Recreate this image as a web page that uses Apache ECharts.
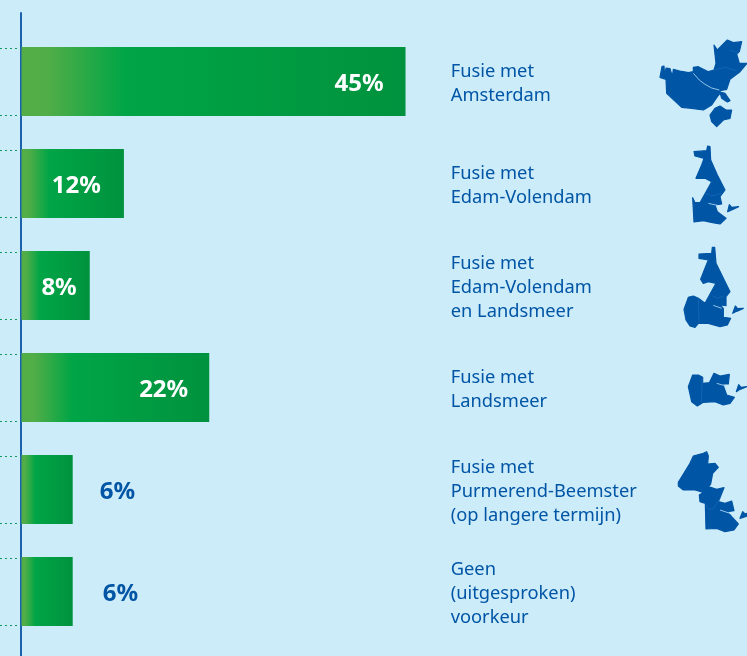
<!DOCTYPE html>
<html><head><meta charset="utf-8">
<style>html,body{margin:0;padding:0;background:#cdecfa}#c{width:747px;height:656px}</style>
<script src="https://cdn.jsdelivr.net/npm/echarts@6/dist/echarts.min.js"></script>
</head><body><div id="c"></div>
<script>
const categories = [
  'Fusie met\nAmsterdam',
  'Fusie met\nEdam-Volendam',
  'Fusie met\nEdam-Volendam\nen Landsmeer',
  'Fusie met\nLandsmeer',
  'Fusie met\nPurmerend-Beemster\n(op langere termijn)',
  'Geen\n(uitgesproken)\nvoorkeur'
];
const percentages = [45, 12, 8, 22, 6, 6];

// label placement, separate from the values
const labelInside = [true, true, true, true, false, false];
const labelGap = [22, 23, 13, 21, 27, 30];

// decorative map silhouettes, traced in zoomed-reference units
const mapAmsterdam = { ox: 640, oy: 30, shapes: [
  [[60,142],[66,110],[72,108],[74,140],[78,114],[90,116],[97,140],[100,118],[122,124],[128,148],[125,124],[145,128],[160,125],[178,148],[195,160],[215,172],[240,182],[240,190],[232,200],[215,225],[190,240],[155,235],[125,232],[80,190],[78,148]],
  [[160,112],[175,110],[205,125],[222,120],[228,100],[222,45],[232,60],[262,30],[280,38],[305,35],[298,65],[290,72],[298,100],[321,100],[300,125],[270,148],[260,178],[240,182],[215,172],[195,160],[178,148],[160,125]],
  [[240,186],[255,190],[270,212],[262,216],[245,205]],
  [[210,255],[225,235],[240,228],[250,235],[258,240],[275,240],[270,265],[250,270],[230,290],[215,275]]
], seams: [[[222,120],[255,112],[290,122]],[[268,60],[295,68]]],
   channels: [[[160,130],[178,150],[195,163],[215,174],[238,180]]] };
const mapEdam = { ox: 640, oy: 30, shapes: [
  [[162,365],[200,362],[203,348],[210,350],[212,390],[232,435],[255,480],[240,500],[245,522],[225,525],[232,545],[258,565],[240,582],[218,578],[190,572],[162,576],[158,503],[165,518],[180,518],[215,455],[195,445],[168,445],[185,405],[192,385],[165,378]],
  [[263,545],[268,524],[275,532],[296,530],[275,540]]
], seams: [[[195,490],[215,498],[245,490]]], channels: [[[205,520],[232,526]]] };
const mapEdamLandsmeer = { ox: 640, oy: 240, shapes: [
  [[177,42],[215,40],[217,22],[224,22],[228,70],[270,155],[258,170],[258,197],[240,195],[250,205],[250,232],[272,235],[262,255],[240,260],[205,250],[175,250],[165,262],[150,258],[138,240],[132,208],[145,172],[160,168],[175,175],[195,190],[228,130],[205,125],[190,130],[182,118],[195,85],[205,60],[177,55]],
  [[278,220],[286,198],[293,206],[310,205],[290,214]]
], seams: [[[175,178],[177,250]],[[218,168],[232,175],[250,168]]], channels: [[[220,196],[245,205]]] };
const mapLandsmeer = { ox: 640, oy: 240, shapes: [
  [[145,440],[158,405],[175,405],[188,412],[188,430],[208,428],[222,400],[240,408],[268,403],[265,432],[248,432],[260,465],[283,472],[270,490],[250,495],[225,485],[190,487],[172,498],[155,485]],
  [[289,455],[296,434],[303,442],[321,440],[300,448]]
], seams: [[[187,412],[184,487]]], channels: [[[230,430],[258,438]]] };
const mapPurmerend = { ox: 640, oy: 240, shapes: [
  [[115,727],[150,670],[160,648],[190,640],[200,635],[205,648],[203,672],[225,670],[235,682],[218,700],[212,732],[205,740],[230,748],[252,743],[235,785],[255,790],[275,783],[282,812],[262,815],[275,830],[295,852],[282,870],[255,875],[230,865],[198,867],[196,790],[180,785],[178,765],[190,757],[165,750],[130,750],[115,738]],
  [[300,835],[308,815],[315,822],[321,820],[321,828]]
], seams: [[[198,795],[205,808],[220,806],[240,775]]], channels: [[[240,810],[270,820]]] };
const maps = [mapAmsterdam, mapEdam, mapEdamLandsmeer, mapLandsmeer, mapPurmerend];

const BLUE = '#0055a5';
const barGradient = {
  type: 'linear', x: 0, y: 0, x2: 1, y2: 0,
  colorStops: [
    { offset: 0, color: '#54ae47' }, { offset: 0.07, color: '#50ad47' },
    { offset: 0.27, color: '#00a546' }, { offset: 1, color: '#00923e' }
  ]
};
const BAR_H = 69;

const graphicMaps = [];
maps.forEach(m => {
  const pt = p => [m.ox + p[0] / 3, m.oy + p[1] / 3];
  m.shapes.forEach(s => graphicMaps.push({
    type: 'polygon', silent: true, z: 1,
    shape: { points: s.map(pt) },
    style: { fill: BLUE, stroke: BLUE, lineWidth: 1.2, lineJoin: 'round' }
  }));
  m.seams.forEach(s => graphicMaps.push({
    type: 'polyline', silent: true, z: 2,
    shape: { points: s.map(pt) },
    style: { fill: null, stroke: '#2a72ba', lineWidth: 0.5 }
  }));
  m.channels.forEach(s => graphicMaps.push({
    type: 'polyline', silent: true, z: 2,
    shape: { points: s.map(pt) },
    style: { fill: null, stroke: '#a5cfee', lineWidth: 0.9 }
  }));
});

const chart = echarts.init(document.getElementById('c'), null, { renderer: 'canvas' });
chart.setOption({
  backgroundColor: '#cdecfa',
  animation: false,
  graphic: graphicMaps,
  grid: [
    { left: 21.5, top: 30.5, width: 426.7, height: 612 },
    { left: 21, top: 13, width: 426.7, height: 643 },
    { left: 21.5, top: 32.5, width: 426.7, height: 612 }
  ],
  xAxis: [
    { type: 'value', gridIndex: 0, min: 0, max: 50, show: false },
    { type: 'value', gridIndex: 1, min: 0, max: 50, show: false },
    { type: 'value', gridIndex: 2, min: 0, max: 50, show: false }
  ],
  yAxis: [
    { type: 'category', gridIndex: 0, inverse: true, data: categories, show: false },
    { type: 'value', gridIndex: 1, min: 0, max: 1, position: 'left',
      axisLine: { show: true, onZero: false, lineStyle: { color: '#1a62ac', width: 2 } },
      axisTick: { show: false }, axisLabel: { show: false }, splitLine: { show: false } },
    { type: 'category', gridIndex: 2, inverse: true, data: categories, position: 'right',
      axisLine: { show: false }, axisTick: { show: false },
      axisLabel: { margin: 2.5, align: 'left', color: BLUE, fontFamily: 'Noto Sans', fontSize: 18.3, lineHeight: 24 } }
  ],
  series: [
    { type: 'bar', xAxisIndex: 0, yAxisIndex: 0, barWidth: BAR_H, z: 3,
      data: percentages.map((v, i) => ({
        value: v,
        itemStyle: { color: barGradient },
        label: {
          show: true,
          position: labelInside[i] ? 'insideRight' : 'right',
          distance: labelGap[i],
          offset: [0, 3],
          formatter: '{c}%',
          color: labelInside[i] ? '#ffffff' : BLUE,
          fontFamily: 'Noto Sans', fontWeight: 'bold', fontSize: 24
        }
      })) },
    { type: 'custom', xAxisIndex: 0, yAxisIndex: 0, z: 1, silent: true,
      data: percentages.map((v, i) => [0, i]),
      encode: { x: 0, y: 1 },
      renderItem(params, api) {
        const c = api.coord([0, api.value(1)]);
        const ys = [Math.round(c[1] - BAR_H / 2) + 1.5, Math.round(c[1] + BAR_H / 2) - 0.5];
        return { type: 'group', children: ys.map(y => ({
          type: 'line',
          shape: { x1: 0, y1: y, x2: 18, y2: y },
          style: { stroke: '#0f9a5c', lineWidth: 1, lineDash: [2, 3] }
        })) };
      } }
  ]
});
</script></body></html>
